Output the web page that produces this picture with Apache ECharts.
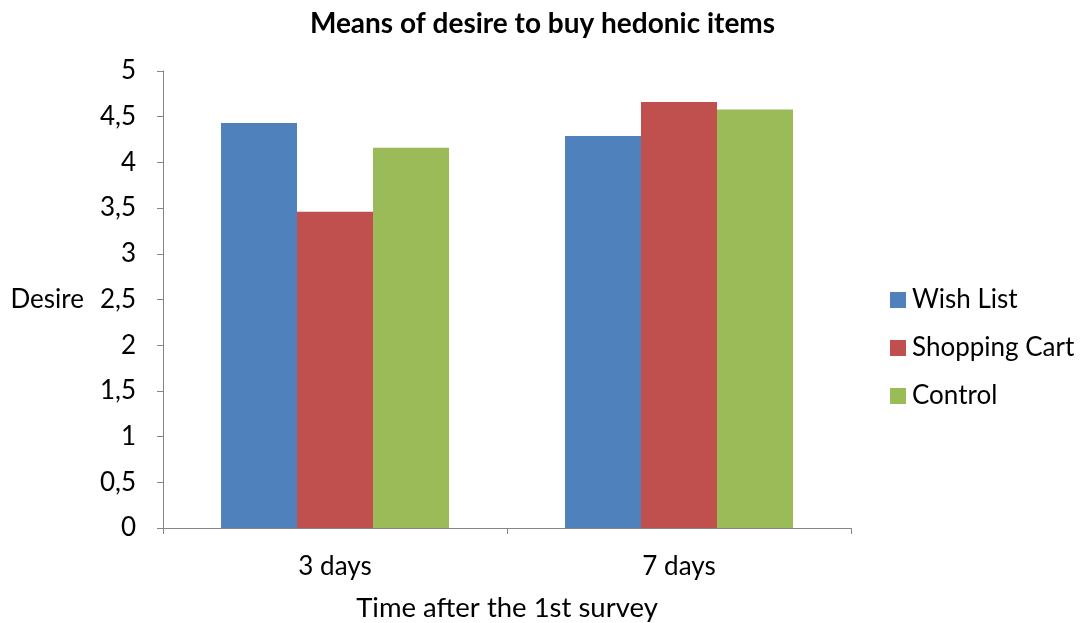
<!DOCTYPE html>
<html>
<head>
<meta charset="utf-8">
<script src="https://cdn.jsdelivr.net/npm/echarts@6/dist/echarts.min.js"></script>
<style>html,body{margin:0;padding:0;background:#fff}#c{width:1085px;height:623px}</style>
</head>
<body>
<div id="c"></div>
<script>
const categories = ['3 days', '7 days'];
const wishList = [4.43, 4.29];
const shoppingCart = [3.46, 4.66];
const control = [4.16, 4.58];
const seriesNames = ['Wish List', 'Shopping Cart', 'Control'];
const colors = ['#4F81BD', '#C0504D', '#9BBB59'];

const chart = echarts.init(document.getElementById('c'));
const font = 'Lato';
chart.setOption({
  animation: false,
  title: {
    text: 'Means of desire to buy hedonic items',
    left: 'center', top: 5,
    textStyle: { fontFamily: font, fontSize: 28, fontWeight: 'bold', color: '#000' }
  },
  legend: {
    orient: 'vertical', left: 885, top: 282,
    itemWidth: 16, itemHeight: 16, itemGap: 22, icon: 'rect',
    textStyle: { fontFamily: font, fontSize: 26, color: '#000', padding: [0, 0, 0, 1] },
    data: seriesNames
  },
  grid: { left: 163, right: 234, top: 71, bottom: 95, containLabel: false, outerBoundsMode: 'none' },
  xAxis: {
    type: 'category', data: categories,
    name: 'Time after the 1st survey', nameLocation: 'middle', nameGap: 66,
    nameTextStyle: { fontFamily: font, fontSize: 27.5, color: '#000' },
    axisLine: { lineStyle: { color: '#868686', width: 1 } },
    axisTick: { show: true, length: 6, lineStyle: { color: '#868686' } },
    axisLabel: { fontFamily: font, fontSize: 26, color: '#000', margin: 26 }
  },
  yAxis: {
    type: 'value', min: 0, max: 5, interval: 0.5,
    name: 'Desire', nameLocation: 'middle', nameRotate: 0, nameGap: 79,
    nameTextStyle: { fontFamily: font, fontSize: 26, color: '#000' },
    axisLine: { show: true, lineStyle: { color: '#868686', width: 1 } },
    axisTick: { show: true, length: 6, lineStyle: { color: '#868686' } },
    splitLine: { show: false },
    axisLabel: {
      fontFamily: font, fontSize: 26, color: '#000', margin: 27,
      formatter: v => String(v).replace('.', ',')
    }
  },
  series: [
    { name: seriesNames[0], type: 'bar', data: wishList, barWidth: 76, barGap: '0%', itemStyle: { color: colors[0] } },
    { name: seriesNames[1], type: 'bar', data: shoppingCart, barWidth: 76, barGap: '0%', itemStyle: { color: colors[1] } },
    { name: seriesNames[2], type: 'bar', data: control, barWidth: 76, barGap: '0%', itemStyle: { color: colors[2] } }
  ]
});
</script>
</body>
</html>
